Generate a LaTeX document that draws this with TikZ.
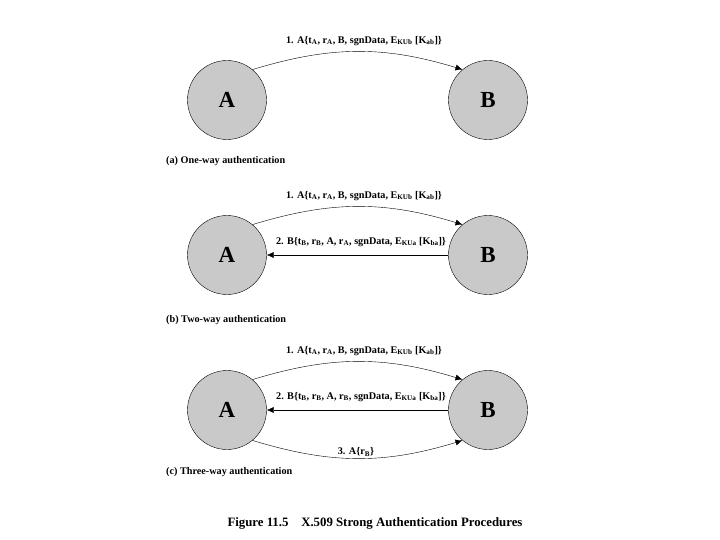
\documentclass[tikz,border=0pt]{standalone}
\usepackage{fontspec}
\setmainfont{Liberation Serif}
\usetikzlibrary{arrows.meta}

\begin{document}
\begin{tikzpicture}[x=1pt, y=1pt, every node/.style={font=\bfseries}, >={Latex[length=7pt,width=6pt]},
	party/.style={circle, draw, fill=black!21, minimum size=79pt, inner sep=0pt, font=\fontsize{23}{25}\bfseries},
	msg/.style={font=\fontsize{10.2}{12}\bfseries, inner sep=1pt},
	panel/.style={font=\fontsize{10.2}{12}\bfseries, anchor=west, inner sep=0pt}]
	\useasboundingbox (0,0) rectangle (720,-540);
	% (a) one-way
	\node[party] (A1) at (227,-100) {A};
	\node[party] (B1) at (488,-100) {B};
	\draw[->] (A1.50) to[bend left=17] (B1.130);
	\node[msg] (m11) at (364,-41) {1. A\{t\textsubscript{A}, r\textsubscript{A}, B, sgnData, E\textsubscript{KUb} [K\textsubscript{ab}]\}};
	\node[panel] (pa) at (166,-161) {(a) One-way authentication};
	% (b) two-way
	\node[party] (A2) at (227,-255) {A};
	\node[party] (B2) at (488,-255) {B};
	\draw[->] (A2.50) to[bend left=17] (B2.130);
	\draw[->] (B2.west) -- (A2.east);
	\node[msg] (m21) at (364,-196) {1. A\{t\textsubscript{A}, r\textsubscript{A}, B, sgnData, E\textsubscript{KUb} [K\textsubscript{ab}]\}};
	\node[msg] (m22) at (361,-242) {2. B\{t\textsubscript{B}, r\textsubscript{B}, A, r\textsubscript{A}, sgnData, E\textsubscript{KUa} [K\textsubscript{ba}]\}};
	\node[panel] (pb) at (166,-320) {(b) Two-way authentication};
	% (c) three-way
	\node[party] (A3) at (227,-410) {A};
	\node[party] (B3) at (488,-410) {B};
	\draw[->] (A3.50) to[bend left=17] (B3.130);
	\draw[->] (B3.west) -- (A3.east);
	\draw[->] (A3.-50) to[bend right=17] (B3.-130);
	\node[msg] (m31) at (364,-351) {1. A\{t\textsubscript{A}, r\textsubscript{A}, B, sgnData, E\textsubscript{KUb} [K\textsubscript{ab}]\}};
	\node[msg] (m32) at (361,-397) {2. B\{t\textsubscript{B}, r\textsubscript{B}, A, r\textsubscript{B}, sgnData, E\textsubscript{KUa} [K\textsubscript{ba}]\}};
	\node[msg] (m33) at (356,-452) {3. A\{r\textsubscript{B}\}};
	\node[panel] (pc) at (166,-472) {(c) Three-way authentication};
	% caption
	\node[font=\fontsize{12.8}{14}\bfseries] (cap) at (375,-523) {Figure 11.5\quad X.509 Strong Authentication Procedures};
\end{tikzpicture}
\end{document}
